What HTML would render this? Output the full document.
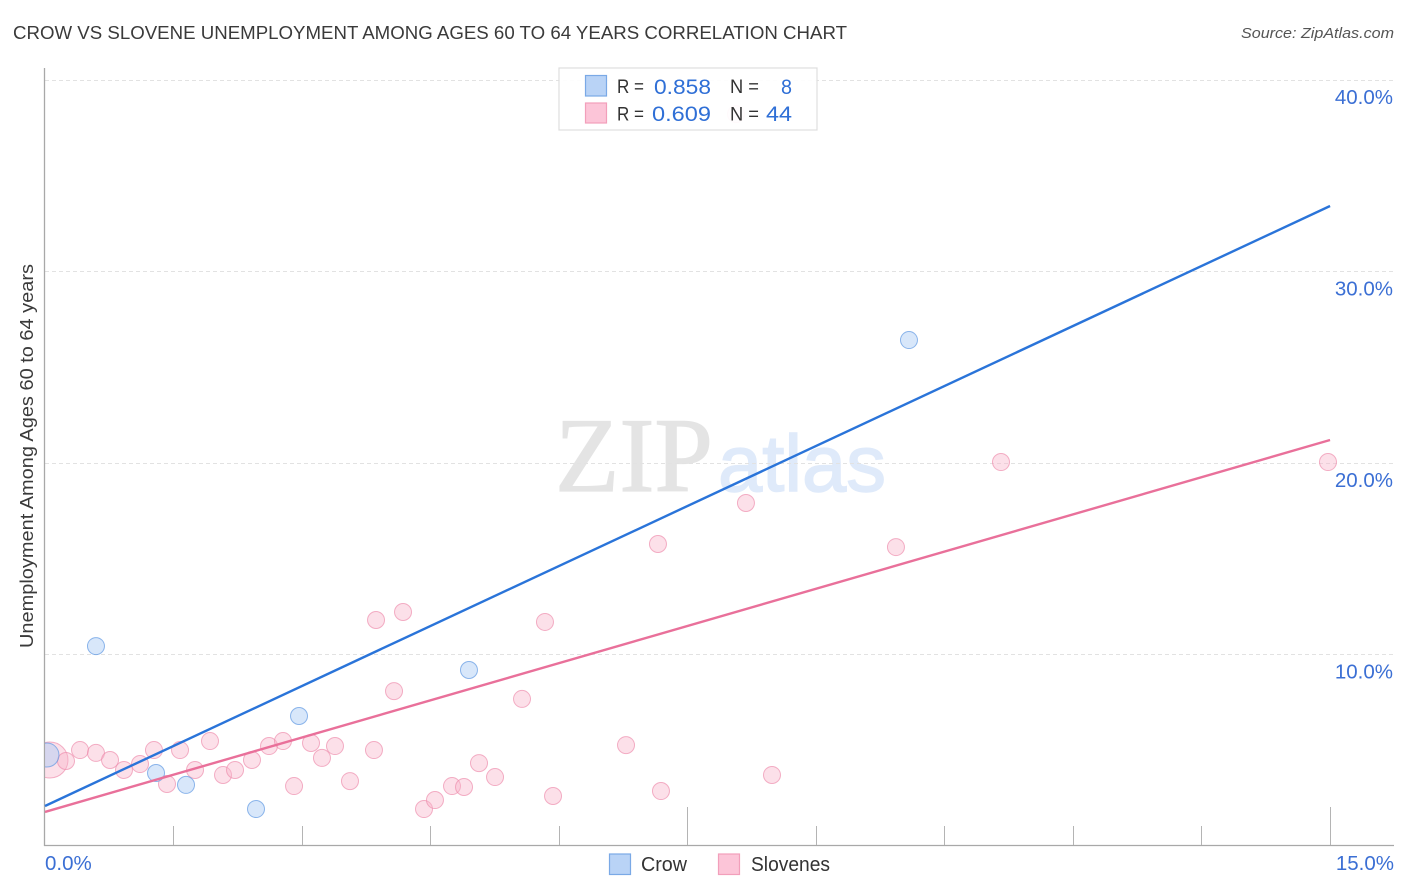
<!DOCTYPE html>
<html lang="en">
<head>
<meta charset="utf-8">
<title>Crow vs Slovene Unemployment Among Ages 60 to 64 Years Correlation Chart</title>
<style>
html,body{margin:0;padding:0;background:#fff;width:1406px;height:892px;overflow:hidden}
svg{display:block;font-family:"Liberation Sans",sans-serif}
</style>
</head>
<body>
<svg id="chart" xmlns="http://www.w3.org/2000/svg" width="1406" height="892" viewBox="0 0 1406 892">
  <defs><clipPath id="plot-clip"><rect x="45" y="60" width="1349" height="786"/></clipPath></defs>
  <text x="13" y="39" font-size="18.5" fill="#3a3a3a" textLength="834" lengthAdjust="spacingAndGlyphs">CROW VS SLOVENE UNEMPLOYMENT AMONG AGES 60 TO 64 YEARS CORRELATION CHART</text>
  <text x="1394" y="38" font-size="15" font-style="italic" fill="#555" text-anchor="end" textLength="153" lengthAdjust="spacingAndGlyphs">Source: ZipAtlas.com</text>
  <text x="555" y="491" font-family="'Liberation Serif',serif" font-size="106" fill="#e4e4e4" stroke="#e4e4e4" stroke-width="1.2" textLength="158" lengthAdjust="spacingAndGlyphs">ZIP</text>
  <text x="718" y="491" font-family="'Liberation Sans',sans-serif" font-size="80" fill="#dfeafa" stroke="#dfeafa" stroke-width="1.5" textLength="168" lengthAdjust="spacingAndGlyphs">atlas</text>
  <g id="grid"></g>
  <g id="axes"></g>
  <g id="marks" clip-path="url(#plot-clip)"></g>
  <g id="trends"></g>
  <g id="labels"></g>
  <text transform="translate(33,456) rotate(-90)" font-size="18.5" fill="#3a3a3a" text-anchor="middle" textLength="384" lengthAdjust="spacingAndGlyphs">Unemployment Among Ages 60 to 64 years</text>

  <g>
    <rect x="559" y="68" width="258" height="62" fill="#fff" fill-opacity="0.93" stroke="#dedede" stroke-width="1.2"/>
    <rect x="585.5" y="75.5" width="21" height="20.5" fill="#b9d3f6" stroke="#7aa9e6" stroke-width="1.2"/>
    <rect x="585.5" y="103" width="21" height="20" fill="#fcc5d8" stroke="#f29fbb" stroke-width="1.2"/>
    <g font-size="19" fill="#333">
      <text x="617" y="93" textLength="27" lengthAdjust="spacingAndGlyphs">R =</text>
      <text x="730" y="93" textLength="29" lengthAdjust="spacingAndGlyphs">N =</text>
      <text x="617" y="120.500" textLength="27" lengthAdjust="spacingAndGlyphs">R =</text>
      <text x="730" y="120.500" textLength="29" lengthAdjust="spacingAndGlyphs">N =</text>
    </g>
    <g font-size="21.500" fill="#2f6fd6">
      <text x="654" y="94" textLength="57" lengthAdjust="spacingAndGlyphs">0.858</text>
      <text x="781" y="94" textLength="11" lengthAdjust="spacingAndGlyphs">8</text>
      <text x="652" y="121" textLength="59" lengthAdjust="spacingAndGlyphs">0.609</text>
      <text x="766" y="121" textLength="26" lengthAdjust="spacingAndGlyphs">44</text>
    </g>
  </g>

  <g>
    <rect x="609.500" y="854" width="21" height="20.500" fill="#b9d3f6" stroke="#7aa9e6" stroke-width="1.2"/>
    <text x="641" y="871" font-size="20" fill="#333" textLength="46" lengthAdjust="spacingAndGlyphs">Crow</text>
    <rect x="718.500" y="854" width="21" height="20.500" fill="#fcc5d8" stroke="#f29fbb" stroke-width="1.2"/>
    <text x="751" y="871" font-size="20" fill="#333" textLength="79" lengthAdjust="spacingAndGlyphs">Slovenes</text>
  </g>
</svg>
<script>
const crowX = [0.023,0.595,1.296,1.646,2.463,2.965,4.949,10.085];
const crowY = [4.75,10.44,3.81,3.19,1.93,6.79,9.19,26.42];
const slovenesX = [0.058,0.245,0.409,0.595,0.759,0.922,1.109,1.272,1.424,1.576,1.751,1.926,2.078,2.218,2.416,2.615,2.778,2.907,3.105,3.233,3.385,3.560,3.840,3.864,4.074,4.179,4.424,4.552,4.751,4.891,5.066,5.253,5.568,5.836,5.930,6.782,7.155,7.190,8.066,8.182,8.486,9.933,11.159,14.976];
const slovenesY = [4.49,4.44,5.01,4.86,4.49,3.97,4.28,5.01,3.24,5.01,3.97,5.48,3.71,3.97,4.49,5.22,5.48,3.13,5.38,4.60,5.22,3.39,5.01,11.80,8.09,12.22,1.93,2.40,3.13,3.08,4.33,3.60,7.68,11.70,2.61,5.27,15.77,2.87,38.22,17.91,3.71,15.61,20.05,20.05];
const crowTrendX = [0,15];
const crowTrendY = [2.09,33.42];
const slovenesTrendX = [0,15];
const slovenesTrendY = [1.78,21.20];
const xTickValues = [0,1.5,3,4.5,6,7.5,9,10.5,12,13.5,15];
const yTickValues = [10,20,30,40];
const yTickLabels = ['10.0%','20.0%','30.0%','40.0%'];
const xEdgeValues = [0,15];
const xEdgeLabels = ['0.0%','15.0%'];

const NS = 'http://www.w3.org/2000/svg';
const sx = v => 45 + v * 85.67;
const sy = v => 846 - v * 19.15;
function make(parent, tag, attrs, text) {
  const el = document.createElementNS(NS, tag);
  for (const k in attrs) el.setAttribute(k, attrs[k]);
  if (text !== undefined) el.textContent = text;
  document.getElementById(parent).appendChild(el);
  return el;
}

yTickValues.forEach((v, i) => {
  const g = make('grid', 'line', {x1: 45, x2: 1394, y1: Math.floor(sy(v)) + 0.5, y2: Math.floor(sy(v)) + 0.5, stroke: '#e2e2e2', 'stroke-width': 1, 'stroke-dasharray': '4 3'});
  
  
  const t = make('labels', 'text', {x: 1393, y: sy(v) + 24, 'font-size': 20.5, fill: '#3b6fd4', 'text-anchor': 'end'}, yTickLabels[i]);
  
  
});

const axisY = make('axes', 'line', {x1: 44.5, x2: 44.5, y1: 68, y2: 846, stroke: '#a8a8a8', 'stroke-width': 1.3});


const axisX = make('axes', 'line', {x1: 44, x2: 1394, y1: 845.5, y2: 845.5, stroke: '#a8a8a8', 'stroke-width': 1.3});



xTickValues.forEach((v, i) => {
  if (i === 0) return;
  const top = i % 5 === 0 ? 807 : 826;
  const t = make('axes', 'line', {x1: Math.round(sx(v) - 0.5) + 0.5, x2: Math.round(sx(v) - 0.5) + 0.5, y1: top, y2: 845, stroke: '#b4b4b4', 'stroke-width': 1});
  
  
});

xEdgeValues.forEach((v, i) => {
  const t = make('labels', 'text', {x: i === 0 ? sx(v) : 1394, y: 870, 'font-size': 20.5, fill: '#3b6fd4', 'text-anchor': i === 0 ? 'start' : 'end'}, xEdgeLabels[i]);
  
  
});

slovenesX.forEach((v, i) => {
  const c = make('marks', 'circle', {cx: sx(v), cy: sy(slovenesY[i]), r: i === 0 ? 18 : 8.5, fill: '#f8b6cb', 'fill-opacity': 0.42, stroke: '#ee8fae', 'stroke-opacity': 0.7, 'stroke-width': 1});
  
  
});
crowX.forEach((v, i) => {
  const c = make('marks', 'circle', {cx: sx(v), cy: sy(crowY[i]), r: i === 0 ? 12 : 8.5, fill: '#a9c9f3', 'fill-opacity': 0.45, stroke: '#5f98e2', 'stroke-opacity': 0.7, 'stroke-width': 1});
  
  
});

const lineCrow = make('trends', 'line', {x1: sx(crowTrendX[0]), y1: sy(crowTrendY[0]), x2: sx(crowTrendX[1]), y2: sy(crowTrendY[1]), stroke: '#2a74d9', 'stroke-width': 2.4});


const lineSlovenes = make('trends', 'line', {x1: sx(slovenesTrendX[0]), y1: sy(slovenesTrendY[0]), x2: sx(slovenesTrendX[1]), y2: sy(slovenesTrendY[1]), stroke: '#e9709a', 'stroke-width': 2.4});


</script>
</body>
</html>
